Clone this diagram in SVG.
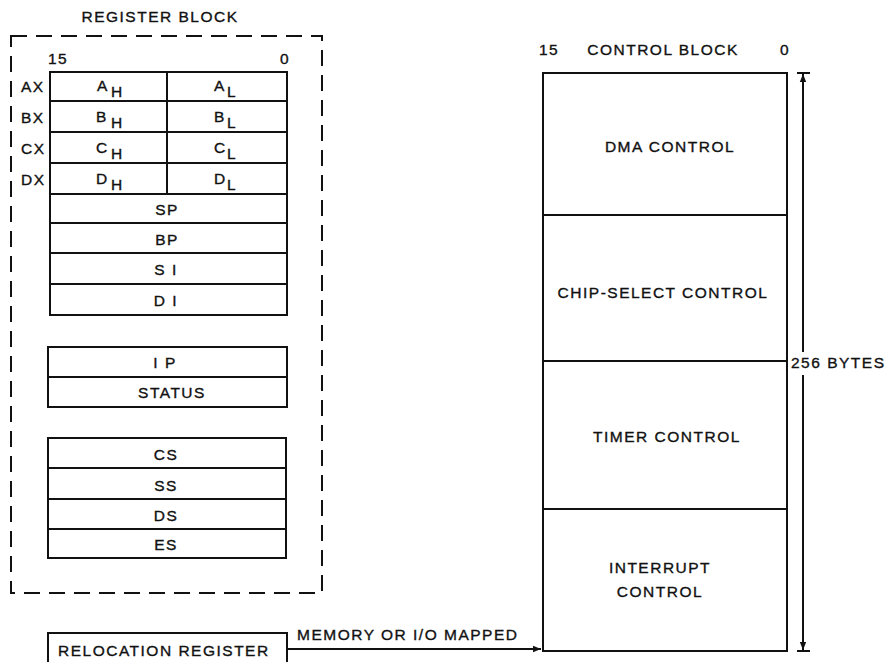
<svg xmlns="http://www.w3.org/2000/svg" width="885" height="662" viewBox="0 0 885 662">
<style>
text{font-family:"Liberation Sans",Arial,sans-serif;font-size:15.5px;fill:#111;stroke:#111;stroke-width:0.35;letter-spacing:1.5px}
.c{text-anchor:middle}
.b{fill:none;stroke:#111;stroke-width:2}
.l{stroke:#111;stroke-width:2;fill:none}
</style>
<defs>
<marker id="ah" viewBox="0 0 10 10" refX="10" refY="5" markerWidth="10" markerHeight="8" markerUnits="userSpaceOnUse" orient="auto"><path d="M0,1 L10,5 L0,9 Z" fill="#111"/></marker>
</defs>
<rect width="885" height="662" fill="#fff"/>
<g id="register-block">
<rect x="11" y="36" width="311" height="557" fill="none" stroke="#111" stroke-width="2" stroke-dasharray="16,9"/>
<text x="160" y="22" class="c">REGISTER BLOCK</text>
<text x="48" y="64">15</text>
<text x="280" y="64">0</text>
</g>
<g id="gp-regs">
<rect class="b" x="50" y="72" width="237" height="243"/>
<line class="l" x1="50" y1="101" x2="287" y2="101"/>
<line class="l" x1="50" y1="132" x2="287" y2="132"/>
<line class="l" x1="50" y1="163" x2="287" y2="163"/>
<line class="l" x1="50" y1="194" x2="287" y2="194"/>
<line class="l" x1="50" y1="223" x2="287" y2="223"/>
<line class="l" x1="50" y1="253" x2="287" y2="253"/>
<line class="l" x1="50" y1="284" x2="287" y2="284"/>
<line class="l" x1="167" y1="72" x2="167" y2="194"/>
<text x="21" y="92">AX</text>
<text x="21" y="123">BX</text>
<text x="21" y="154">CX</text>
<text x="21" y="185">DX</text>
<text x="97" y="91">A</text><text x="111" y="97">H</text>
<text x="214" y="91">A</text><text x="227" y="97">L</text>
<text x="96" y="122">B</text><text x="111" y="128">H</text>
<text x="214" y="122">B</text><text x="227" y="128">L</text>
<text x="96" y="153">C</text><text x="111" y="159">H</text>
<text x="214" y="153">C</text><text x="227" y="159">L</text>
<text x="96" y="184">D</text><text x="111" y="190">H</text>
<text x="214" y="184">D</text><text x="227" y="190">L</text>
<text x="167" y="215" class="c">SP</text>
<text x="167" y="245" class="c">BP</text>
<text x="166" y="275" class="c">S I</text>
<text x="166" y="306" class="c">D I</text>
</g>
<g id="ip-status">
<rect class="b" x="48" y="347" width="239" height="60"/>
<line class="l" x1="48" y1="377" x2="287" y2="377"/>
<text x="165" y="368" class="c">I P</text>
<text x="172" y="398" class="c">STATUS</text>
</g>
<g id="seg-regs">
<rect class="b" x="48" y="438" width="238" height="120"/>
<line class="l" x1="48" y1="468" x2="286" y2="468"/>
<line class="l" x1="48" y1="499" x2="286" y2="499"/>
<line class="l" x1="48" y1="529" x2="286" y2="529"/>
<text x="166" y="460" class="c">CS</text>
<text x="166" y="491" class="c">SS</text>
<text x="166" y="521" class="c">DS</text>
<text x="166" y="550" class="c">ES</text>
</g>
<g id="relocation-register">
<path class="l" d="M48,664 L48,633 L287,633 L287,664"/>
<text x="58" y="656">RELOCATION REGISTER</text>
</g>
<g id="control-block">
<text x="539" y="55">15</text>
<text x="663" y="55" class="c">CONTROL BLOCK</text>
<text x="780" y="55">0</text>
<rect class="b" x="543" y="73" width="244" height="578"/>
<line class="l" x1="543" y1="215" x2="787" y2="215"/>
<line class="l" x1="543" y1="361" x2="787" y2="361"/>
<line class="l" x1="543" y1="509" x2="787" y2="509"/>
<text x="670" y="152" class="c">DMA CONTROL</text>
<text x="663" y="298" class="c">CHIP-SELECT CONTROL</text>
<text x="667" y="442" class="c">TIMER CONTROL</text>
<text x="660" y="573" class="c">INTERRUPT</text>
<text x="660" y="597" class="c">CONTROL</text>
</g>
<g id="connectors">
<line class="l" x1="287" y1="649" x2="541" y2="649" marker-end="url(#ah)"/>
<text x="297" y="640">MEMORY OR I/O MAPPED</text>
<line class="l" x1="797" y1="73" x2="810" y2="73"/>
<line class="l" x1="797" y1="651" x2="810" y2="651"/>
<line class="l" x1="803" y1="352" x2="803" y2="74" marker-end="url(#ah)"/>
<line class="l" x1="803" y1="375" x2="803" y2="650" marker-end="url(#ah)"/>
<text x="791" y="368">256 BYTES</text>
</g>
</svg>
